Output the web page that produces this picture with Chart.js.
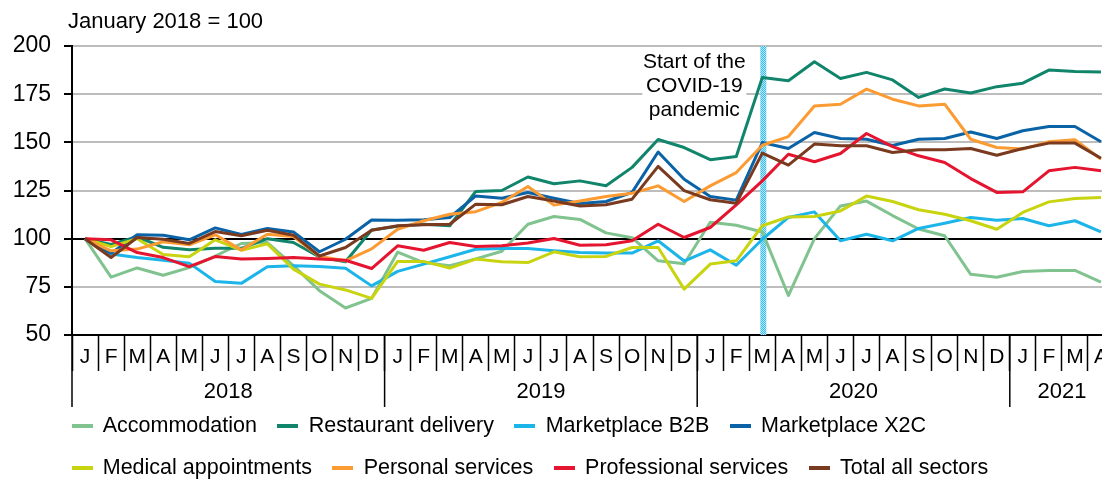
<!DOCTYPE html>
<html>
<head>
<meta charset="utf-8">
<script src="https://cdn.jsdelivr.net/npm/chart.js@4.4.1/dist/chart.umd.min.js"></script>
<style>
  html, body { margin: 0; padding: 0; background: #fff; overflow: hidden; }
</style>
</head>
<body>
<canvas id="chartCanvas" width="1116" height="489"></canvas>
<script>
// Data
const monthLabels = [
  'J','F','M','A','M','J','J','A','S','O','N','D',
  'J','F','M','A','M','J','J','A','S','O','N','D',
  'J','F','M','A','M','J','J','A','S','O','N','D',
  'J','F','M','A'
];
const years = ['2018', '2019', '2020', '2021'];
const yearStarts = [0, 12, 24, 36];
const yTicks = [50, 75, 100, 125, 150, 175, 200];

const accommodation = [100, 80, 84.8, 81, 85, 91, 97.5, 98, 86, 73, 64, 69,
  93, 87.6, 86, 89.5, 93.5, 107.5, 111.5, 110, 103, 100.5, 88.5, 87,
  108.5, 107, 103.5, 70.5, 100, 117, 119.5, 112, 105, 101.5, 81.5, 80,
  83, 83.5, 83.5, 77.5];
const restaurantDelivery = [100, 97, 101, 95.5, 94.2, 95, 95, 100, 98, 90.5, 88, 104.5,
  106.5, 107.5, 106.7, 124.5, 125, 132, 128.5, 130, 127.5, 137, 151.5, 147.3,
  141, 142.6, 183.7, 182, 191.8, 183.1, 186.3, 182.4, 173.3, 177.7, 175.6, 178.9,
  180.7, 187.5, 186.8, 186.5];
const marketplaceB2B = [100, 92, 90.2, 88.8, 87.3, 77.8, 76.8, 85.4, 86, 85.6, 84.7, 75.5,
  83, 86.8, 90.6, 94.5, 94.9, 94.9, 93.7, 92.8, 92.5, 92.5, 98.9, 88.4,
  94.2, 86.2, 99.7, 111, 113.9, 98.9, 102.3, 98.9, 105.3, 108, 111, 109.6,
  110.5, 106.7, 109.3, 103.5];
const marketplaceX2C = [100, 92.5, 102, 101.8, 99.4, 105.6, 102.2, 105.3, 103.5, 93.2, 99.7, 109.7,
  109.6, 109.8, 111, 122.2, 121, 124, 121, 118.3, 119.3, 124, 145, 130.8,
  121.9, 120, 149.9, 146.8, 155.1, 152, 151.6, 148.4, 151.6, 152, 155.4, 152,
  156, 158.2, 158.2, 150.3];
const medical = [100, 95.9, 100, 91.8, 90.6, 99.4, 94, 97.3, 84.2, 76.4, 73.4, 69,
  88.2, 88.2, 84.7, 89.4, 88, 87.6, 93.2, 90.6, 90.8, 95.4, 95.4, 73.8,
  86.8, 88.5, 106.7, 111.3, 111.5, 114.4, 122.1, 119.3, 115, 112.7, 109.3, 104.9,
  113.6, 119.1, 120.8, 121.4];
const personal = [100, 93.7, 94.6, 98.4, 96.8, 102, 94.2, 102.3, 101.1, 90.7, 88.5, 94.7,
  104.9, 109.3, 112.7, 114, 118.8, 127.1, 117.4, 119.6, 121.9, 123.6, 127.4, 119.3,
  127.4, 134.3, 148.5, 153, 168.9, 169.8, 177.6, 172.4, 168.9, 169.8, 151.6, 147.3,
  146.5, 150.3, 151.3, 141.3];
const professional = [100, 99.4, 92.8, 90.2, 85.5, 90.7, 89.4, 89.7, 90.2, 89.4, 88.8, 84.5,
  96.3, 94, 98, 95.9, 96.3, 97.7, 100.1, 96.6, 96.8, 98.9, 107.5, 100.6,
  105.8, 117.5, 130, 143.8, 139.9, 144.2, 154.6, 147.8, 143, 139.5, 131.2, 124,
  124.3, 135.2, 137, 135.2];
const totalAll = [100, 90.2, 100.6, 99.7, 97.5, 103.7, 101.5, 104.4, 101.8, 91, 95.4, 104.4,
  106.7, 107.2, 107.5, 117.9, 117.6, 121.9, 119.6, 117, 117.6, 120.5, 137.5, 124.9,
  120.2, 118.4, 144.4, 138.2, 149.1, 148.2, 148.2, 144.7, 146.1, 146.1, 146.8, 143.3,
  146.8, 149.6, 149.6, 141.7];

const seriesNames = ['Accommodation', 'Restaurant delivery', 'Marketplace B2B', 'Marketplace X2C',
  'Medical appointments', 'Personal services', 'Professional services', 'Total all sectors'];
const seriesData = [accommodation, restaurantDelivery, marketplaceB2B, marketplaceX2C,
  medical, personal, professional, totalAll];
const seriesColors = ['#80c38f', '#10856b', '#1cb5ea', '#0a63a6',
  '#c8d40f', '#fd9b33', '#e5142f', '#7a3a1f'];

const covidIndex = 26; // March 2020
const covidNote = ['Start of the', 'COVID-19', 'pandemic'];

const fontFamily = "'Liberation Sans', Arial, sans-serif";
Chart.defaults.font.family = fontFamily;
Chart.defaults.color = '#000';

// little line swatch for the legend
const lineSwatch = (color) => {
  const c = document.createElement('canvas');
  c.width = 21;
  c.height = 4;
  const g = c.getContext('2d');
  g.fillStyle = color;
  g.fillRect(0, 0, 21, 4);
  return c;
};

// hatched light blue band pattern
const bandPattern = (() => {
  const c = document.createElement('canvas');
  c.width = 2;
  c.height = 2;
  const g = c.getContext('2d');
  g.fillStyle = '#b9e6fa';
  g.fillRect(0, 0, 2, 2);
  g.fillStyle = '#36bdee';
  g.fillRect(0, 0, 1, 1);
  g.fillRect(1, 1, 1, 1);
  return g.createPattern(c, 'repeat');
})();

const extras = {
  id: 'extras',
  afterLayout(chart) {
    // legend rows start flush with the plot edge
    chart.legend.left = chart.chartArea.left - chart.legend.options.labels.padding;
  },
  beforeDatasetsDraw(chart) {
    const { ctx, chartArea, scales: { x } } = chart;
    const bandX = x.getPixelForValue(covidIndex);
    const noteX = bandX - 68;

    ctx.save();
    // white box behind the note
    ctx.fillStyle = '#fff';
    ctx.fillRect(noteX - 52, chartArea.top + 4, 104, 74);
    ctx.font = `21px ${fontFamily}`;
    ctx.fillStyle = '#000';
    ctx.textAlign = 'center';
    ctx.textBaseline = 'middle';
    covidNote.forEach((line, i) => ctx.fillText(line, noteX, chartArea.top + 16 + i * 24));

    // covid band
    ctx.fillStyle = bandPattern;
    ctx.fillRect(bandX - 2, chartArea.top, 6, chartArea.bottom - chartArea.top);
    ctx.restore();
  },
  afterDraw(chart) {
    const { ctx, chartArea, scales: { x } } = chart;
    const colW = x.getPixelForValue(1) - x.getPixelForValue(0);

    ctx.save();
    // title
    ctx.font = `22px ${fontFamily}`;
    ctx.fillStyle = '#000';
    ctx.textAlign = 'left';
    ctx.textBaseline = 'middle';
    ctx.fillText('January 2018 = 100', chartArea.left - 4, 22);

    // year separators and labels
    ctx.strokeStyle = '#000';
    ctx.lineWidth = 1.5;
    ctx.textAlign = 'center';
    years.forEach((yr, i) => {
      const start = yearStarts[i];
      const end = i < years.length - 1 ? yearStarts[i + 1] : monthLabels.length;
      const left = x.getPixelForValue(start) - colW / 2;
      ctx.beginPath();
      ctx.moveTo(left, chartArea.bottom);
      ctx.lineTo(left, chartArea.bottom + 72);
      ctx.stroke();
      const mid = (x.getPixelForValue(start) + x.getPixelForValue(end - 1)) / 2;
      ctx.fillText(yr, mid, chartArea.bottom + 57);
    });
    ctx.restore();
  }
};

const ctx = document.getElementById('chartCanvas').getContext('2d');

const chart = new Chart(ctx, {
  type: 'line',
  data: {
    labels: monthLabels,
    datasets: seriesNames.map((name, i) => ({
      label: name,
      data: seriesData[i],
      borderColor: seriesColors[i],
      backgroundColor: seriesColors[i],
      borderWidth: 3,
      pointRadius: 0,
      pointStyle: lineSwatch(seriesColors[i]),
      tension: 0,
      borderJoinStyle: 'round',
      order: seriesNames.length - i // later series drawn on top
    }))
  },
  options: {
    responsive: false,
    animation: false,
    devicePixelRatio: 1,
    events: [],
    layout: { padding: { top: 46, left: 0, right: 2, bottom: 0 } },
    scales: {
      x: {
        offset: true,
        afterFit: (scale) => { scale.height = 59; },
        border: { color: '#000', width: 2 },
        grid: {
          offset: true,
          drawOnChartArea: false,
          drawTicks: true,
          tickLength: 36,
          tickColor: '#000',
          tickWidth: 1.5
        },
        ticks: {
          autoSkip: false,
          maxRotation: 0,
          padding: -26,
          font: { size: 21 }
        }
      },
      y: {
        min: 50,
        max: 200,
        afterFit: (scale) => { scale.width = 72; },
        afterBuildTicks: (scale) => { scale.ticks = yTicks.map(v => ({ value: v })); },
        border: { color: '#000', width: 2 },
        grid: {
          color: (c) => (c.tick && (c.tick.value === 100 || c.tick.value === 50)) ? '#000' : '#bdbdbd',
          lineWidth: 2,
          tickColor: '#000',
          tickLength: 8
        },
        ticks: {
          padding: 13,
          font: { size: 23 }
        }
      }
    },
    plugins: {
      legend: {
        position: 'bottom',
        align: 'start',
        fullSize: false,
        labels: {
          usePointStyle: true,
          pointStyleWidth: 20,
          padding: 21,
          color: '#000',
          font: { size: 21.5 },
          sort: (a, b) => a.datasetIndex - b.datasetIndex
        }
      },
      tooltip: { enabled: false }
    }
  },
  plugins: [extras]
});
</script>
</body>
</html>
